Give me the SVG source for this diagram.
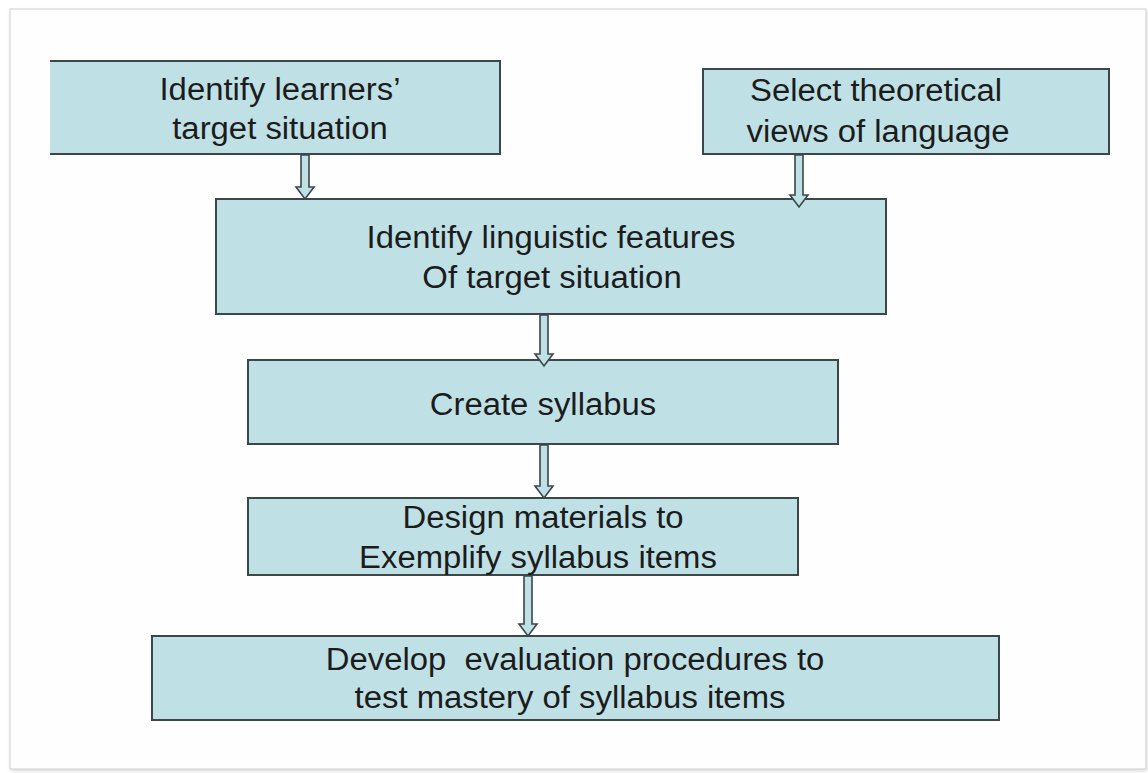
<svg xmlns="http://www.w3.org/2000/svg" width="1148" height="773" viewBox="0 0 1148 773">
  <defs>
    <style>
      .box { fill: #bfe1e6; stroke: #3b4748; stroke-width: 2; }
      .fill { fill: #bfe1e6; stroke: none; }
      .edge { fill: none; stroke: #3b4748; stroke-width: 2; }
      .arr { fill: #bfe1e6; stroke: #3b4748; stroke-width: 1.6; stroke-linejoin: miter; }
      .t { font-family: "Liberation Sans", Arial, sans-serif; font-size: 31px; fill: #1c1c1c; text-anchor: middle; }
    </style>
    <filter id="sh" x="-5%" y="-5%" width="110%" height="110%">
      <feGaussianBlur stdDeviation="2"/>
    </filter>
  </defs>
  <rect x="0" y="0" width="1148" height="773" fill="#ffffff"/>
  <g id="frame">
    <rect x="11" y="11" width="1136" height="760" fill="#d8d8d8" filter="url(#sh)"/>
    <rect x="10" y="9" width="1136" height="760" fill="#fefefe" stroke="#cfcfcf" stroke-width="1"/>
  </g>

  <g id="n1">
    <rect class="fill" x="50" y="61" width="450" height="93"/>
    <path class="edge" d="M50 61 H500 V154 H50"/>
    <text class="t" transform="translate(280 100) scale(1.06 1)">Identify learners’</text>
    <text class="t" transform="translate(280 139) scale(1.06 1)">target situation</text>
  </g>
  <g id="n2">
    <rect class="box" x="703" y="69" width="406" height="85"/>
    <text class="t" transform="translate(876 101) scale(1.06 1)">Select theoretical</text>
    <text class="t" transform="translate(878 142) scale(1.06 1)">views of language</text>
  </g>
  <g id="n3">
    <rect class="box" x="216" y="199" width="670" height="115"/>
    <text class="t" transform="translate(551 248) scale(1.06 1)">Identify linguistic features</text>
    <text class="t" transform="translate(552 288) scale(1.06 1)">Of target situation</text>
  </g>
  <g id="n4">
    <rect class="box" x="248" y="360" width="590" height="84"/>
    <text class="t" transform="translate(543 415) scale(1.06 1)">Create syllabus</text>
  </g>
  <g id="n5">
    <rect class="box" x="248" y="498" width="550" height="77"/>
    <text class="t" transform="translate(543 528) scale(1.06 1)">Design materials to</text>
    <text class="t" transform="translate(538 568) scale(1.06 1)">Exemplify syllabus items</text>
  </g>
  <g id="n6">
    <rect class="box" x="152" y="636" width="847" height="84"/>
    <text class="t" xml:space="preserve" transform="translate(575 670) scale(1.06 1)">Develop  evaluation procedures to</text>
    <text class="t" transform="translate(570 708) scale(1.06 1)">test mastery of syllabus items</text>
  </g>

  <g id="connectors">
    <path class="arr" d="M301 155 V187 H296 L305 199 L314 187 H309 V155 Z"/>
    <path class="arr" d="M795 155 V195 H790 L799 207 L808 195 H803 V155 Z"/>
    <path class="arr" d="M540 315 V354 H535 L544 366 L553 354 H548 V315 Z"/>
    <path class="arr" d="M540 445 V486 H535 L544 498 L553 486 H548 V445 Z"/>
    <path class="arr" d="M524 576 V624 H519 L528 636 L537 624 H532 V576 Z"/>
  </g>
</svg>
